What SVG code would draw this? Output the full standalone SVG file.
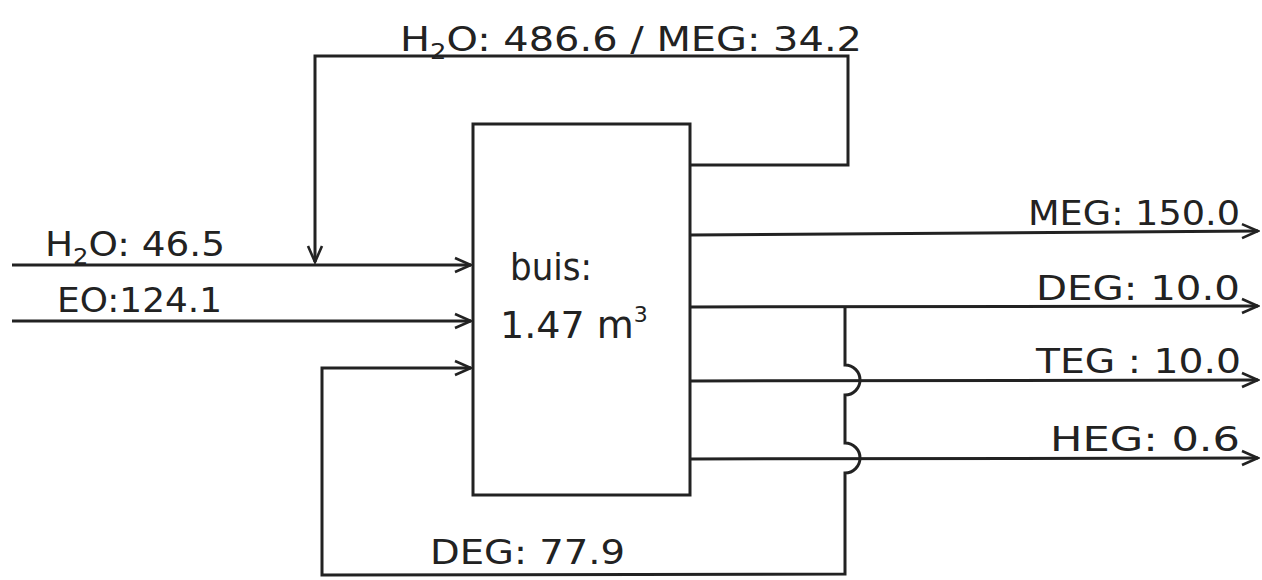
<svg xmlns="http://www.w3.org/2000/svg" width="1262" height="580" viewBox="0 0 1262 580">
<defs>
<marker id="arr" viewBox="0 0 20 20" refX="18" refY="10" markerWidth="20" markerHeight="20" markerUnits="userSpaceOnUse" orient="auto">
<path d="M2,3 L18,10 L2,17" fill="none" stroke="#222" stroke-width="2.6"/>
</marker>
</defs>
<style>
.ln{fill:none;stroke:#222;stroke-width:3;stroke-linejoin:miter}
.t{font-family:"DejaVu Sans","Liberation Sans",sans-serif;font-size:34px;fill:#222;font-weight:normal}
.big{font-size:38px}
.sub{font-size:22px}
</style>
<rect width="1262" height="580" fill="#fff"/>
<g id="connectors">
<path class="ln" d="M690,165 L848,165 L848,56 L315,56 L315,262" marker-end="url(#arr)"/>
<path class="ln" d="M12,265 L471,265" marker-end="url(#arr)"/>
<path class="ln" d="M12,321 L471,321" marker-end="url(#arr)"/>
<path class="ln" d="M690,235 L1258,231" marker-end="url(#arr)"/>
<path class="ln" d="M690,307 L1258,306" marker-end="url(#arr)"/>
<path class="ln" d="M690,381 L1258,380" marker-end="url(#arr)"/>
<path class="ln" d="M690,459 L1258,458" marker-end="url(#arr)"/>
<path class="ln" d="M845,307 L845,365 A15,15 0 0 1 845,395 L845,443 A15,15 0 0 1 845,473 L845,574 L322,575 L322,368 L471,368" marker-end="url(#arr)"/>
</g>
<g id="reactor">
<rect class="ln" x="473" y="124" width="217" height="371"/>
<text class="t big" x="510" y="280" textLength="82" lengthAdjust="spacingAndGlyphs">buis:</text>
<text class="t big" x="500" y="338">1.47 m<tspan class="sub" dy="-16">3</tspan></text>
</g>
<g id="labels">
<text class="t" x="400" y="51" textLength="462" lengthAdjust="spacingAndGlyphs">H<tspan class="sub" dy="8">2</tspan><tspan dy="-8">O: 486.6 / MEG: 34.2</tspan></text>
<text class="t" x="45" y="256" textLength="180" lengthAdjust="spacingAndGlyphs">H<tspan class="sub" dy="8">2</tspan><tspan dy="-8">O: 46.5</tspan></text>
<text class="t" x="57" y="312" textLength="165" lengthAdjust="spacingAndGlyphs">EO:124.1</text>
<text class="t" x="1028" y="225" textLength="212" lengthAdjust="spacingAndGlyphs">MEG: 150.0</text>
<text class="t" x="1036" y="300" textLength="204" lengthAdjust="spacingAndGlyphs">DEG: 10.0</text>
<text class="t" x="1036" y="373" textLength="205" lengthAdjust="spacingAndGlyphs">TEG : 10.0</text>
<text class="t" x="1050" y="451" textLength="190" lengthAdjust="spacingAndGlyphs">HEG: 0.6</text>
<text class="t" x="430" y="564" textLength="195" lengthAdjust="spacingAndGlyphs">DEG: 77.9</text>
</g>
</svg>
